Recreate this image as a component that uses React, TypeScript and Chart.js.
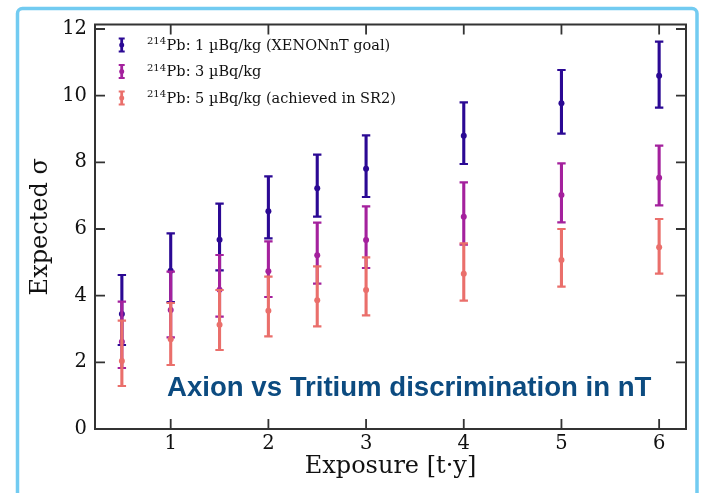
import React, { useEffect, useRef } from "react";
import { Chart, registerables } from "chart.js";

Chart.register(...registerables);

// ---------------- data ----------------
const exposure = [0.5, 1, 1.5, 2, 2.5, 3, 4, 5, 6];

const blueCenter = [3.45, 4.75, 5.68, 6.53, 7.22, 7.81, 8.8, 9.77, 10.6];
const blueUpper = [4.62, 5.87, 6.76, 7.58, 8.23, 8.81, 9.8, 10.77, 11.62];
const blueLower = [2.52, 3.81, 4.76, 5.72, 6.37, 6.96, 7.95, 8.86, 9.64];

const purpleCenter = [2.62, 3.57, 4.18, 4.73, 5.21, 5.67, 6.37, 7.02, 7.54];
const purpleUpper = [3.82, 4.72, 5.22, 5.63, 6.19, 6.68, 7.4, 7.97, 8.5];
const purpleLower = [1.83, 2.75, 3.37, 3.96, 4.36, 4.83, 5.53, 6.2, 6.71];

const redCenter = [2.04, 2.69, 3.13, 3.55, 3.86, 4.17, 4.66, 5.07, 5.45];
const redUpper = [3.25, 3.78, 4.17, 4.57, 4.88, 5.15, 5.57, 6.0, 6.3];
const redLower = [1.29, 1.92, 2.37, 2.78, 3.08, 3.41, 3.85, 4.27, 4.66];

const xTicks = [1, 2, 3, 4, 5, 6];
const yTicks = [0, 2, 4, 6, 8, 10, 12];

const isotope = "214";
const seriesLabels = [
  "Pb: 1 µBq/kg (XENONnT goal)",
  "Pb: 3 µBq/kg",
  "Pb: 5 µBq/kg (achieved in SR2)",
];
const seriesColors = ["#2b0994", "#a4219d", "#ea6f6b"];

const annotationText = "Axion vs Tritium discrimination in nT";
const xTitle = "Exposure [t·y]";
const yTitle = "Expected σ";

const SERIF = "'DejaVu Serif', serif";
const SANS = "'Liberation Sans', Arial, sans-serif";

function makePoints(c: number[], lo: number[], hi: number[]) {
  return exposure.map((x, i) => ({ x, y: c[i], lo: lo[i], hi: hi[i] }));
}

const errorBarPlugin = {
  id: "errorBars",
  beforeDatasetDraw(chart: any, args: any) {
    const ds = chart.data.datasets[args.index];
    const xs = chart.scales.x;
    const ys = chart.scales.y;
    const ctx = chart.ctx;
    ctx.save();
    ctx.strokeStyle = ds.backgroundColor;
    ctx.lineCap = "butt";
    for (const p of ds.data) {
      const px = xs.getPixelForValue(p.x);
      const pLo = ys.getPixelForValue(p.lo);
      const pHi = ys.getPixelForValue(p.hi);
      ctx.lineWidth = 3.1;
      ctx.beginPath();
      ctx.moveTo(px, pLo);
      ctx.lineTo(px, pHi);
      ctx.stroke();
      ctx.lineWidth = 2.2;
      ctx.beginPath();
      ctx.moveTo(px - 4.2, pLo);
      ctx.lineTo(px + 4.2, pLo);
      ctx.moveTo(px - 4.2, pHi);
      ctx.lineTo(px + 4.2, pHi);
      ctx.stroke();
    }
    ctx.restore();
  },
};

const decorPlugin = {
  id: "decor",
  afterDatasetsDraw(chart: any) {
    const ctx = chart.ctx;
    const { left, right, top, bottom } = chart.chartArea;
    const xs = chart.scales.x;
    const ys = chart.scales.y;
    ctx.save();
    // axes box
    ctx.strokeStyle = "#333";
    ctx.lineWidth = 2;
    ctx.strokeRect(left, top, right - left, bottom - top);
    // inward ticks
    ctx.lineWidth = 1.8;
    ctx.beginPath();
    for (const t of xs.ticks) {
      const px = xs.getPixelForValue(t.value);
      ctx.moveTo(px, bottom);
      ctx.lineTo(px, bottom - 10);
      ctx.moveTo(px, top);
      ctx.lineTo(px, top + 10);
    }
    for (const t of ys.ticks) {
      const py = ys.getPixelForValue(t.value);
      ctx.moveTo(left, py);
      ctx.lineTo(left + 10, py);
      ctx.moveTo(right, py);
      ctx.lineTo(right - 10, py);
    }
    ctx.stroke();

    // annotation
    ctx.fillStyle = "#0c4b80";
    ctx.font = `bold 27.6px ${SANS}`;
    ctx.textAlign = "left";
    ctx.textBaseline = "alphabetic";
    ctx.fillText(annotationText, 167, 396);

    // legend
    chart.data.datasets.forEach((ds: any, i: number) => {
      const cy = 45 + i * 26.5;
      const mx = 121.7;
      ctx.strokeStyle = ds.backgroundColor;
      ctx.fillStyle = ds.backgroundColor;
      ctx.lineWidth = 2.8;
      ctx.beginPath();
      ctx.moveTo(mx, cy - 6.5);
      ctx.lineTo(mx, cy + 6.5);
      ctx.stroke();
      ctx.lineWidth = 1.8;
      ctx.beginPath();
      ctx.moveTo(mx - 3, cy - 6.5);
      ctx.lineTo(mx + 3, cy - 6.5);
      ctx.moveTo(mx - 3, cy + 6.5);
      ctx.lineTo(mx + 3, cy + 6.5);
      ctx.stroke();
      ctx.beginPath();
      ctx.arc(mx, cy, 2.5, 0, Math.PI * 2);
      ctx.fill();

      ctx.fillStyle = "#111";
      const base = cy + 4.8;
      ctx.font = `10px ${SERIF}`;
      ctx.fillText(isotope, 147, base - 5.8);
      const w = ctx.measureText(isotope).width;
      ctx.font = `14.5px ${SERIF}`;
      ctx.fillText(seriesLabels[i], 147 + w + 0.5, base);
    });

    // frame
    ctx.strokeStyle = "#72cbf1";
    ctx.lineWidth = 3.5;
    ctx.beginPath();
    ctx.roundRect(17.5, 8.5, 679.5, 520, 5);
    ctx.stroke();
    ctx.restore();
  },
};

export default function App() {
  const ref = useRef<HTMLCanvasElement | null>(null);

  useEffect(() => {
    if (!ref.current) return;
    const centers = [blueCenter, purpleCenter, redCenter];
    const lows = [blueLower, purpleLower, redLower];
    const highs = [blueUpper, purpleUpper, redUpper];
    const chart = new Chart(ref.current, {
      type: "scatter",
      data: {
        datasets: seriesLabels.map((label, i) => ({
          label: "²¹⁴" + label,
          data: makePoints(centers[i], lows[i], highs[i]) as any,
          backgroundColor: seriesColors[i],
          borderColor: seriesColors[i],
          borderWidth: 0,
          pointRadius: 3,
          pointHoverRadius: 3,
          showLine: false,
          order: 2 - i,
        })),
      },
      options: {
        animation: false,
        responsive: false,
        devicePixelRatio: 1,
        layout: { padding: { left: 0, top: 24.5, right: 37, bottom: 0 } },
        plugins: {
          legend: { display: false },
          tooltip: { enabled: false },
        },
        scales: {
          x: {
            type: "linear",
            min: 0.225,
            max: 6.275,
            afterFit: (s: any) => {
              s.height = 64;
            },
            afterBuildTicks: (s: any) => {
              s.ticks = xTicks.map((v) => ({ value: v }));
            },
            grid: { display: false, drawTicks: false },
            border: { display: false },
            ticks: {
              font: { family: SERIF, size: 19.5 },
              color: "#111",
              padding: 3,
              maxRotation: 0,
              autoSkip: false,
            },
            title: {
              display: true,
              text: xTitle,
              font: { family: SERIF, size: 24 },
              color: "#111",
              padding: { top: 0, bottom: 12 },
            },
          },
          y: {
            type: "linear",
            min: 0,
            max: 12.135,
            afterFit: (s: any) => {
              s.width = 95;
            },
            afterBuildTicks: (s: any) => {
              s.ticks = yTicks.map((v) => ({ value: v }));
            },
            grid: { display: false, drawTicks: false },
            border: { display: false },
            ticks: {
              font: { family: SERIF, size: 19.5 },
              color: "#111",
              padding: 8,
              autoSkip: false,
            },
            title: {
              display: true,
              text: yTitle,
              font: { family: SERIF, size: 24 },
              color: "#111",
              padding: { top: 26, bottom: 0 },
            },
          },
        },
      },
      plugins: [errorBarPlugin, decorPlugin],
    });
    return () => chart.destroy();
  }, []);

  return (
    <div style={{ position: "absolute", left: 0, top: 0, width: 723, height: 493, background: "#fff" }}>
      <canvas ref={ref} width={723} height={493} style={{ display: "block", width: 723, height: 493 }} />
    </div>
  );
}
